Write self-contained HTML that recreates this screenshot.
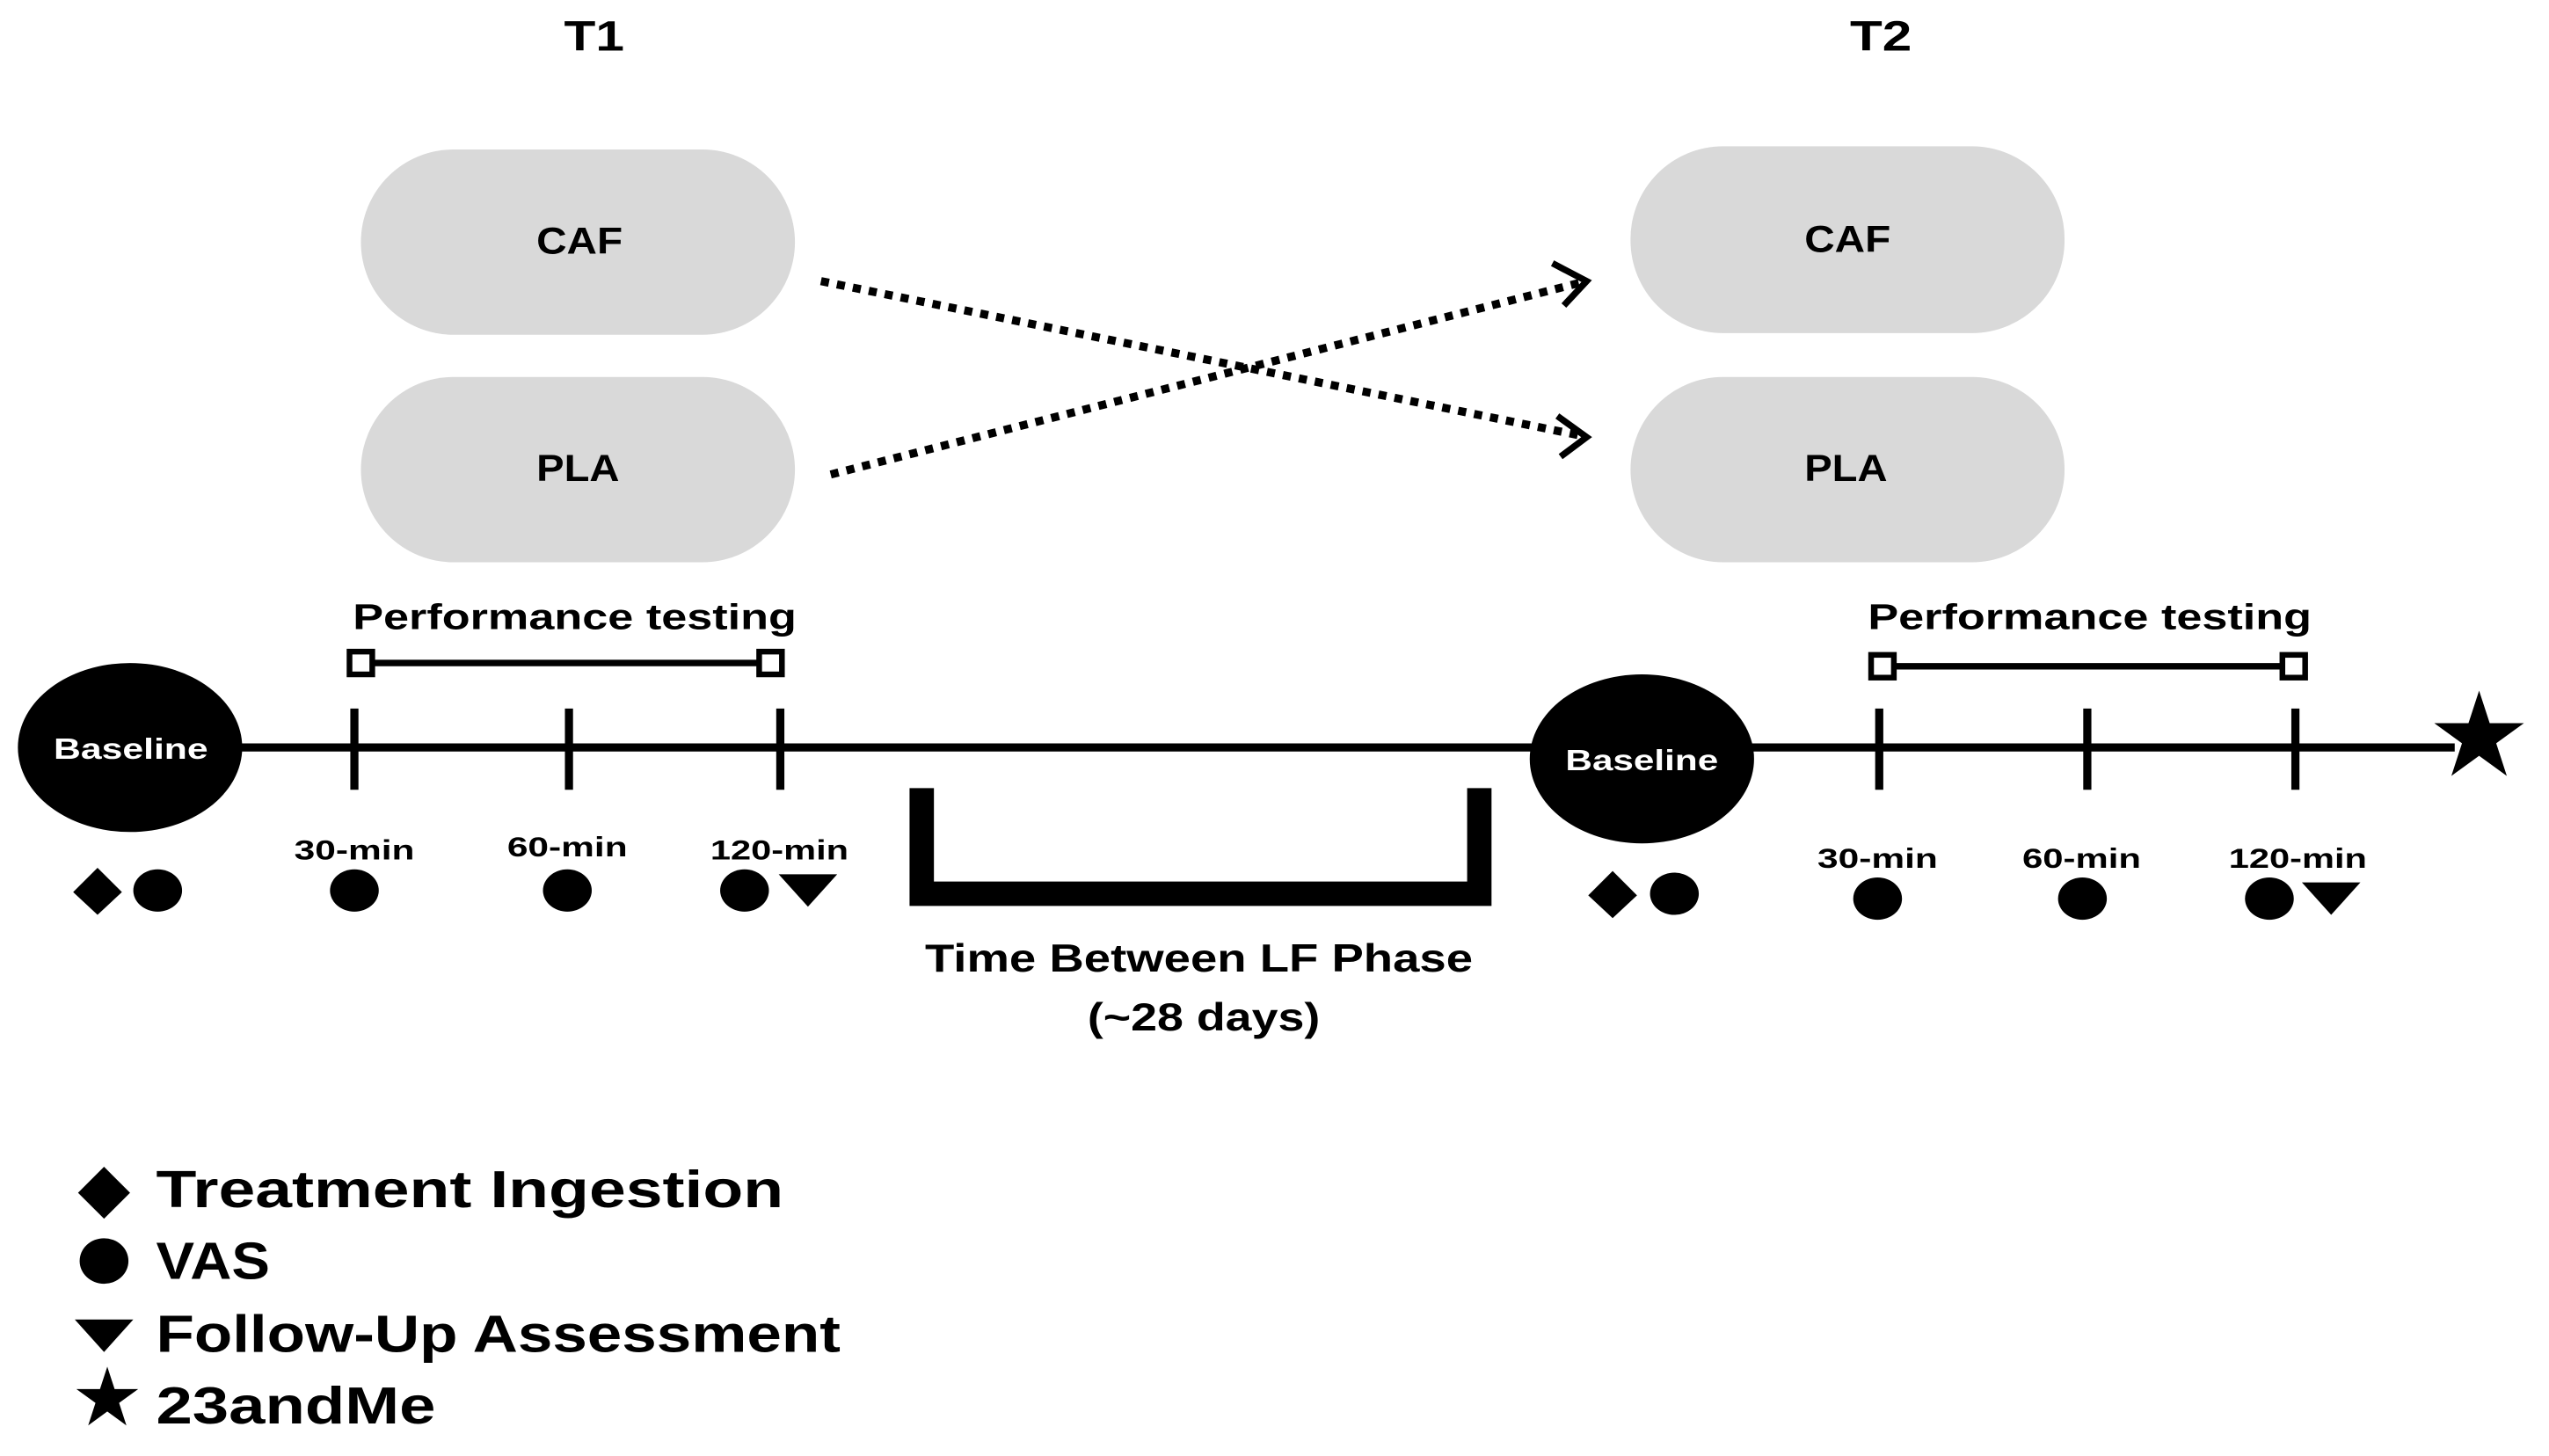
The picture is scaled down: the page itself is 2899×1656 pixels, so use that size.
<!DOCTYPE html>
<html><head><meta charset="utf-8"><style>
html,body{margin:0;padding:0;background:#fff;}
svg{display:block;}
text{font-family:"Liberation Sans",sans-serif;font-weight:bold;fill:#000;}
</style></head><body>
<svg width="2899" height="1656" viewBox="0 0 1568 896" preserveAspectRatio="none" xmlns="http://www.w3.org/2000/svg">
<defs>
<path id="star" d="M0,-1 L.225,-.309 L.951,-.309 L.363,.118 L.588,.809 L0,.382 L-.588,.809 L-.363,.118 L-.951,-.309 L-.225,-.309 Z"/>
</defs>
<rect width="1568" height="896" fill="#fff"/>
<text x="347" y="31" font-size="26" textLength="37" lengthAdjust="spacingAndGlyphs">T1</text>
<text x="1138" y="31" font-size="26" textLength="38" lengthAdjust="spacingAndGlyphs">T2</text>
<rect x="222" y="92" width="267" height="114" rx="57" fill="#d9d9d9"/>
<rect x="222" y="232" width="267" height="114" rx="57" fill="#d9d9d9"/>
<rect x="1003" y="90" width="267" height="115" rx="57" fill="#d9d9d9"/>
<rect x="1003" y="232" width="267" height="114" rx="57" fill="#d9d9d9"/>
<text x="330" y="156" font-size="23" textLength="53" lengthAdjust="spacingAndGlyphs">CAF</text>
<text x="330" y="296" font-size="23" textLength="51" lengthAdjust="spacingAndGlyphs">PLA</text>
<text x="1110" y="155" font-size="23" textLength="53" lengthAdjust="spacingAndGlyphs">CAF</text>
<text x="1110" y="296" font-size="23" textLength="51" lengthAdjust="spacingAndGlyphs">PLA</text>
<g stroke="#000" stroke-width="5" fill="none">
<line x1="505" y1="173" x2="972" y2="268" stroke-dasharray="5 5"/>
<line x1="511" y1="292" x2="972" y2="174" stroke-dasharray="5 5"/>
<polyline points="958,256 976,269 960,281" stroke-width="4"/>
<polyline points="955,162 976,173 962,188" stroke-width="4"/>
</g>
<text x="217" y="387" font-size="22" textLength="273" lengthAdjust="spacingAndGlyphs">Performance testing</text>
<text x="1149" y="387" font-size="22" textLength="273" lengthAdjust="spacingAndGlyphs">Performance testing</text>
<g stroke="#000" fill="none">
<line x1="228" y1="408" x2="468" y2="408" stroke-width="4"/>
<rect x="215" y="401" width="14" height="14" stroke-width="3.5" fill="#fff"/>
<rect x="467" y="401" width="14" height="14" stroke-width="3.5" fill="#fff"/>
<line x1="1164" y1="410" x2="1405" y2="410" stroke-width="4"/>
<rect x="1151" y="403" width="14" height="14" stroke-width="3.5" fill="#fff"/>
<rect x="1404" y="403" width="14" height="14" stroke-width="3.5" fill="#fff"/>
<line x1="140" y1="460" x2="1510" y2="460" stroke-width="5"/>
<g stroke-width="5">
<line x1="218" y1="436" x2="218" y2="486"/>
<line x1="350" y1="436" x2="350" y2="486"/>
<line x1="480" y1="436" x2="480" y2="486"/>
<line x1="1156" y1="436" x2="1156" y2="486"/>
<line x1="1284" y1="436" x2="1284" y2="486"/>
<line x1="1412" y1="436" x2="1412" y2="486"/>
</g>
<polyline points="567,485 567,550 910,550 910,485" stroke-width="15"/>
</g>
<ellipse cx="80" cy="460" rx="69" ry="52" fill="#000"/>
<ellipse cx="1010" cy="467" rx="69" ry="52" fill="#000"/>
<text x="33" y="467" font-size="18" textLength="95" lengthAdjust="spacingAndGlyphs" style="fill:#fff">Baseline</text>
<text x="963" y="474" font-size="18" textLength="94" lengthAdjust="spacingAndGlyphs" style="fill:#fff">Baseline</text>
<use href="#star" transform="translate(1525,454) scale(29)"/>
<g font-size="17">
<text x="181" y="529" textLength="74" lengthAdjust="spacingAndGlyphs">30-min</text>
<text x="312" y="527" textLength="74" lengthAdjust="spacingAndGlyphs">60-min</text>
<text x="437" y="529" textLength="85" lengthAdjust="spacingAndGlyphs">120-min</text>
<text x="1118" y="534" textLength="74" lengthAdjust="spacingAndGlyphs">30-min</text>
<text x="1244" y="534" textLength="73" lengthAdjust="spacingAndGlyphs">60-min</text>
<text x="1371" y="534" textLength="85" lengthAdjust="spacingAndGlyphs">120-min</text>
</g>
<g fill="#000">
<polygon points="60,534 75,549 60,563 45,549"/>
<ellipse cx="97" cy="548" rx="15" ry="13"/>
<ellipse cx="218" cy="548" rx="15" ry="13"/>
<ellipse cx="349" cy="548" rx="15" ry="13"/>
<ellipse cx="458" cy="548" rx="15" ry="13"/>
<polygon points="479,538 515,538 497,558"/>
<polygon points="992,536 1007,551 992,565 977,551"/>
<ellipse cx="1030" cy="550" rx="15" ry="13"/>
<ellipse cx="1155" cy="553" rx="15" ry="13"/>
<ellipse cx="1281" cy="553" rx="15" ry="13"/>
<ellipse cx="1396" cy="553" rx="15" ry="13"/>
<polygon points="1416,543 1452,543 1434,563"/>
</g>
<text x="569" y="598" font-size="24" textLength="337" lengthAdjust="spacingAndGlyphs">Time Between LF Phase</text>
<text x="669" y="634" font-size="24" textLength="143" lengthAdjust="spacingAndGlyphs">(~28 days)</text>
<g fill="#000">
<polygon points="64,718 80,734 64,750 48,734"/>
<ellipse cx="64" cy="776" rx="15" ry="14"/>
<polygon points="46,812 82,812 64,832"/>
<use href="#star" transform="translate(66,861) scale(20)"/>
</g>
<g font-size="32">
<text x="96" y="743" textLength="386" lengthAdjust="spacingAndGlyphs">Treatment Ingestion</text>
<text x="96" y="787" textLength="70" lengthAdjust="spacingAndGlyphs">VAS</text>
<text x="96" y="832" textLength="421" lengthAdjust="spacingAndGlyphs">Follow-Up Assessment</text>
<text x="96" y="876" textLength="172" lengthAdjust="spacingAndGlyphs">23andMe</text>
</g>
</svg>
</body></html>
